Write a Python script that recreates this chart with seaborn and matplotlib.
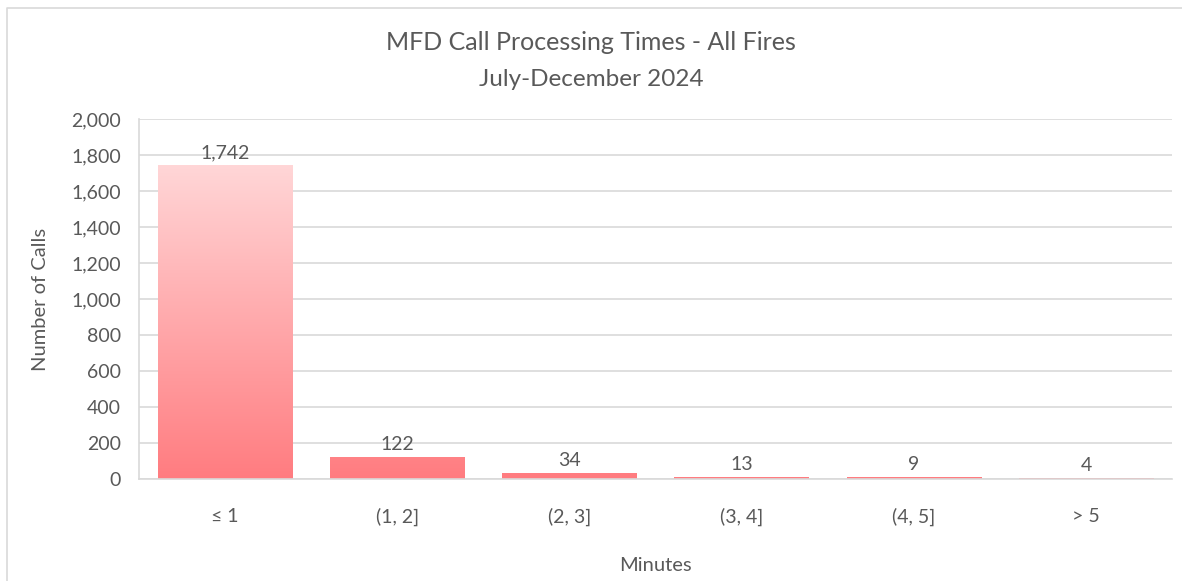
import numpy as np
import matplotlib
matplotlib.use('Agg')
import matplotlib.pyplot as plt
import seaborn as sns
from matplotlib.lines import Line2D

# Data
categories = ['≤ 1', '(1, 2]', '(2, 3]', '(3, 4]', '(4, 5]', '> 5']
calls = [1742, 122, 34, 13, 9, 4]
y_ticks = [0, 200, 400, 600, 800, 1000, 1200, 1400, 1600, 1800, 2000]

sns.set_style('white')
plt.rcParams['font.family'] = ['Lato', 'DejaVu Sans']
text_color = '#595959'

fig = plt.figure(figsize=(11.82, 5.81), dpi=100)
ax = fig.add_axes([139 / 1182, 1 - 479 / 581, 1033 / 1182, 360 / 581])

sns.barplot(x=categories, y=calls, ax=ax, color='#FF7C80', width=0.78, zorder=2)

# gradient fill clipped to each bar (light at the top, salmon at zero)
grad = np.linspace(0, 1, 256).reshape(-1, 1)
cmap = matplotlib.colors.LinearSegmentedColormap.from_list('g', ['#FF7C80', '#FFD6D7'])
for bar in ax.patches:
    bar.set_facecolor('none')
    bar.set_edgecolor('none')
    im = ax.imshow(grad, cmap=cmap, aspect='auto', origin='lower',
                   extent=[bar.get_x(), bar.get_x() + bar.get_width(), 0, max(calls)],
                   zorder=2, interpolation='bilinear')
    im.set_clip_path(bar)

for i, v in enumerate(calls):
    ax.text(i, v + 22, f'{v:,}', ha='center', va='bottom', fontsize=14, color=text_color)

ax.set_xlim(-0.5, len(categories) - 0.5)
ax.set_ylim(0, 2000)
ax.set_yticks(y_ticks)
ax.set_yticklabels([f'{t:,}' for t in y_ticks])
ax.yaxis.grid(True, color='#D9D9D9', linewidth=1.2, zorder=0)
ax.set_axisbelow(True)
for s in ['top', 'right']:
    ax.spines[s].set_visible(False)
for s in ['bottom', 'left']:
    ax.spines[s].set_color('#D9D9D9')
    ax.spines[s].set_linewidth(1.2)
ax.tick_params(axis='both', length=0, labelsize=14, labelcolor=text_color)
ax.tick_params(axis='x', pad=21)
ax.tick_params(axis='y', pad=13)

ax.set_xlabel('Minutes', fontsize=14.5, color=text_color, labelpad=22)
ax.set_ylabel('Number of Calls', fontsize=14.5, color=text_color, labelpad=16)

fig.text(0.5, 1 - 43 / 581, 'MFD Call Processing Times - All Fires', ha='center', va='center',
         fontsize=18, color=text_color)
fig.text(0.5, 1 - 80 / 581, 'July-December 2024', ha='center', va='center',
         fontsize=17.5, color=text_color)

# chart area border (top and left edges visible)
fig.lines.append(Line2D([7 / 1182, 7 / 1182, 1], [0, 1 - 8 / 581, 1 - 8 / 581],
                        transform=fig.transFigure, color='#D9D9D9', linewidth=1.2))

fig.savefig('out.png', dpi=100)
